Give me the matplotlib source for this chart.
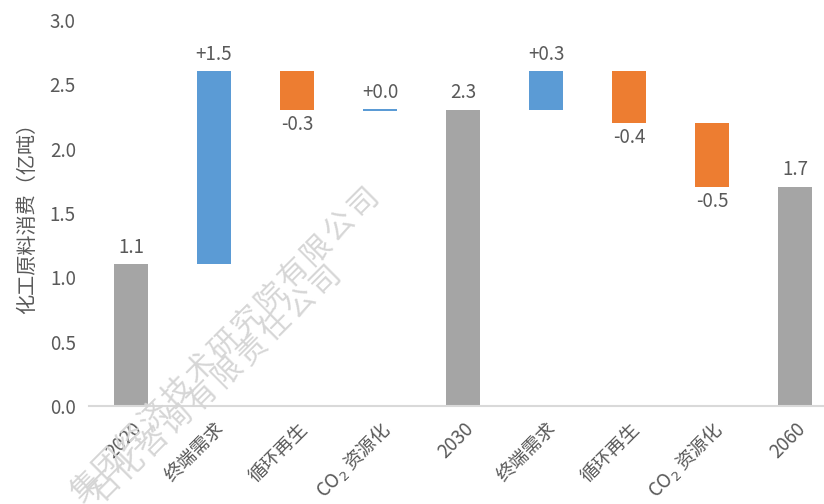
import matplotlib
matplotlib.use("Agg")
import matplotlib.pyplot as plt
from matplotlib.ticker import FormatStrFormatter

plt.rcParams['font.family'] = ['Noto Sans CJK SC', 'DejaVu Sans']
plt.rcParams['mathtext.fontset'] = 'dejavusans'

categories = ['2020', '终端需求', '循环再生', 'CO$_2$ 资源化', '2030',
              '终端需求', '循环再生', 'CO$_2$ 资源化', '2060']
values = [1.1, 1.5, -0.3, 0.0, 2.3, 0.3, -0.4, -0.5, 1.7]
is_total = [True, False, False, False, True, False, False, False, True]
y_ticks = [0.0, 0.5, 1.0, 1.5, 2.0, 2.5, 3.0]
y_label = '化工原料消费（亿吨）'
watermarks = ['集团经济技术研究院有限公司', '石化咨询有限责任公司']

GRAY = '#A5A5A5'
BLUE = '#5B9BD5'
ORANGE = '#ED7D31'
TXT = '#595959'
FS = 13.5

fig = plt.figure(figsize=(8.24, 5.04), dpi=100)
ax = fig.add_axes([89/824, 98/504, 1 - 89/824, (406-20)/504])

running = 0.0
for i, (v, tot) in enumerate(zip(values, is_total)):
    if tot:
        bottom, h, color = 0.0, v, GRAY
        running = v
        label = f'{v:.1f}'
    else:
        bottom, h = running, v
        color = BLUE if v >= 0 else ORANGE
        running += v
        label = f'+{v:.1f}' if v >= 0 else f'{v:.1f}'
    if h == 0:
        ax.bar(i, 0.012, bottom=bottom - 0.006, width=0.41, color=color, linewidth=0)
    else:
        ax.bar(i, h, bottom=bottom, width=0.41, color=color, linewidth=0)
    top = max(bottom, bottom + h)
    low = min(bottom, bottom + h)
    if tot or v >= 0:
        ax.annotate(label, (i, top), xytext=(0, 5), textcoords='offset points',
                    ha='center', va='bottom', fontsize=FS, color=TXT)
    else:
        ax.annotate(label, (i, low), xytext=(0, -3), textcoords='offset points',
                    ha='center', va='top', fontsize=FS, color=TXT)

ax.set_xlim(-0.506, 8.35)
ax.set_ylim(0, 3.0)
ax.set_yticks(y_ticks)
ax.yaxis.set_major_formatter(FormatStrFormatter('%.1f'))
ax.set_xticks(range(len(categories)))
ax.set_xticklabels(categories, rotation=45, ha='right', rotation_mode='anchor',
                   fontsize=FS, color=TXT)
ax.tick_params(axis='y', length=0, labelsize=FS, labelcolor=TXT, pad=9.5)
ax.tick_params(axis='x', length=0, pad=9)
for s in ['top', 'right', 'left']:
    ax.spines[s].set_visible(False)
ax.spines['bottom'].set_color('#D9D9D9')
ax.spines['bottom'].set_linewidth(1.5)
ax.set_ylabel(y_label, fontsize=14.5, color=TXT, labelpad=8)

# watermark: characters placed along a 45-degree line (pixel coords from top-left)
def watermark(text, start, end):
    n = len(text) - 1
    for k, ch in enumerate(text):
        x = start[0] + (end[0] - start[0]) * k / n
        y = start[1] + (end[1] - start[1]) * k / n
        fig.text(x / 824, 1 - y / 504, ch, rotation=45, fontsize=21.5,
                 color='#D6D6D6', ha='center', va='center', zorder=10)

watermark(watermarks[0], (86, 487), (363, 202))
watermark(watermarks[1], (105, 488), (325, 280))

fig.savefig('out.png', dpi=100)
